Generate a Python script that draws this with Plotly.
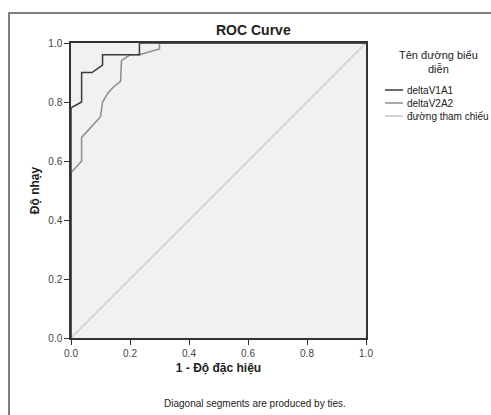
import plotly.graph_objects as go

# ROC data
fpr_v1a1 = [0, 0, 0.036, 0.036, 0.071, 0.107, 0.107, 0.232, 0.232, 1.0]
tpr_v1a1 = [0, 0.78, 0.80, 0.90, 0.90, 0.925, 0.96, 0.96, 1.0, 1.0]

fpr_v2a2 = [0, 0, 0.036, 0.036, 0.100, 0.107, 0.125, 0.143, 0.168, 0.171, 0.200, 0.232, 0.300, 0.300, 1.0]
tpr_v2a2 = [0, 0.56, 0.60, 0.68, 0.75, 0.80, 0.83, 0.85, 0.87, 0.94, 0.96, 0.96, 0.98, 1.0, 1.0]

ref_x = [0, 1]
ref_y = [0, 1]

series_names = ["deltaV1A1", "deltaV2A2", "đường tham chiếu"]
tick_vals = [0.0, 0.2, 0.4, 0.6, 0.8, 1.0]
tick_text = ["0.0", "0.2", "0.4", "0.6", "0.8", "1.0"]

W, H = 491, 415
L, R, T, B = 71, 366, 43, 338


def px(xp):
    return (xp - L) / (R - L)


def py(yp):
    return (B - yp) / (B - T)


FONT = "Liberation Sans, Arial, sans-serif"

fig = go.Figure()
fig.add_trace(go.Scatter(x=ref_x, y=ref_y, mode="lines", name=series_names[2],
                         line=dict(color="#c4c4c4", width=1.2), showlegend=False))
fig.add_trace(go.Scatter(x=fpr_v2a2, y=tpr_v2a2, mode="lines", name=series_names[1],
                         line=dict(color="#8c8c8c", width=1.5), showlegend=False))
fig.add_trace(go.Scatter(x=fpr_v1a1, y=tpr_v1a1, mode="lines", name=series_names[0],
                         line=dict(color="#3a3a3a", width=1.5), showlegend=False))

axis_common = dict(
    range=[0, 1], tickvals=tick_vals, ticktext=tick_text, ticks="outside",
    ticklen=5, tickcolor="#333", showline=True, linecolor="#333", linewidth=1.5,
    mirror=True, showgrid=False, zeroline=False,
    tickfont=dict(family=FONT, size=10, color="#444"),
)

fig.update_layout(
    width=W, height=H,
    margin=dict(l=L, r=W - R, t=T, b=H - B, autoexpand=False),
    paper_bgcolor="white", plot_bgcolor="#f1f1f1",
    showlegend=False,
    xaxis=dict(**axis_common,
               title=dict(text="<b>1 - Độ đặc hiệu</b>", font=dict(family=FONT, size=12, color="#222"), standoff=6)),
    yaxis=dict(**axis_common,
               title=dict(text="<b>Độ nhạy</b>", font=dict(family=FONT, size=12, color="#222"), standoff=6)),
)

ann = []
ann.append(dict(text="<b>ROC Curve</b>", x=px(253), y=py(30), xref="paper", yref="paper",
                showarrow=False, font=dict(family=FONT, size=14, color="#222"), xanchor="center", yanchor="middle"))
ann.append(dict(text="Tên đường biểu<br>diễn", x=px(438), y=py(62), xref="paper", yref="paper",
                showarrow=False, font=dict(family=FONT, size=11, color="#222"), xanchor="center", yanchor="middle",
                align="center"))
ann.append(dict(text="Diagonal segments are produced by ties.", x=px(255), y=py(403), xref="paper", yref="paper",
                showarrow=False, font=dict(family=FONT, size=10, color="#222"), xanchor="center", yanchor="middle"))

legend_colors = ["#3a3a3a", "#8c8c8c", "#c4c4c4"]
legend_y = [90, 103, 116]
shapes = []
for name, col, yy in zip(series_names, legend_colors, legend_y):
    shapes.append(dict(type="line", xref="paper", yref="paper", x0=px(385), x1=px(403), y0=py(yy), y1=py(yy),
                       line=dict(color=col, width=1.5)))
    ann.append(dict(text=name, x=px(405), y=py(yy), xref="paper", yref="paper", showarrow=False,
                    font=dict(family=FONT, size=10, color="#222"), xanchor="left", yanchor="middle"))

# outer chart frame
shapes.append(dict(type="rect", xref="paper", yref="paper", x0=px(9), x1=px(520), y0=py(13), y1=py(440),
                   line=dict(color="#555", width=1.5), fillcolor="rgba(0,0,0,0)", layer="below"))

fig.update_layout(annotations=ann, shapes=shapes)
fig.write_html("out.html", config={"displayModeBar": False},
               post_script="document.body.style.margin='0';document.body.style.overflow='hidden';")
